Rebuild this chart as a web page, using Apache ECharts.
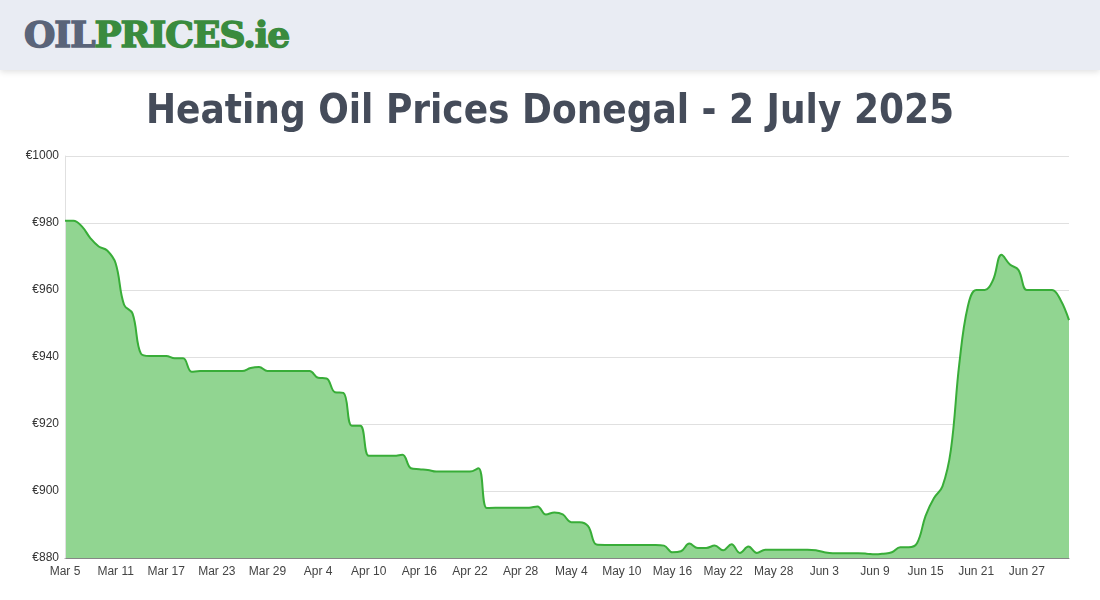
<!DOCTYPE html>
<html>
<head>
<meta charset="utf-8">
<script src="https://cdn.jsdelivr.net/npm/echarts@6/dist/echarts.min.js"></script>
<style>
  body { margin: 0; background: #fff; font-family: Roboto, sans-serif; }
  #header { height: 70px; background: #e9ecf3; box-shadow: 0 2px 6px rgba(0,0,0,0.12); position: relative; }
  #logo { position: absolute; left: 24px; top: 13px; font-family: "DejaVu Serif", serif; font-weight: bold; font-size: 36px; letter-spacing: -1px; -webkit-text-stroke: 1.5px currentColor; }
  #logo .a { color: #5a6479; }
  #logo .b { color: #3a8b3e; }
  #chart { width: 1100px; height: 530px; }
</style>
</head>
<body>
<div id="header"><div id="logo"><span class="a">OIL</span><span class="b">PRICES.ie</span></div></div>
<div id="chart"></div>
<script>
const startDate = new Date(2025, 2, 5);
const monthNames = ['Jan', 'Feb', 'Mar', 'Apr', 'May', 'Jun', 'Jul'];

const prices = [
  980.7, 980.7, 979, 975.5, 973, 971.8, 968, 955.6, 953, 941,
  940.3, 940.3, 940.3, 939.6, 939.6, 935.6, 935.8, 935.8, 935.8, 935.8,
  935.8, 935.8, 936.7, 937, 935.8, 935.8, 935.8, 935.8, 935.8, 935.8,
  933.8, 933.6, 929.5, 929.3, 919.5, 919.5, 910.5, 910.5, 910.5, 910.5,
  910.8, 906.8, 906.5, 906.3, 905.8, 905.8, 905.8, 905.8, 905.8, 906.8,
  894.9, 895, 895, 895, 895, 895, 895.4, 893, 893.6, 893,
  890.7, 890.7, 889.5, 884, 883.9, 883.9, 883.9, 883.9, 883.9, 883.9,
  883.9, 883.7, 881.7, 882, 884.3, 883, 883, 883.7, 882.3, 884.1,
  881.5, 883.4, 881.5, 882.5, 882.5, 882.5, 882.5, 882.5, 882.5, 882.3,
  881.7, 881.4, 881.4, 881.4, 881.4, 881.3, 881.1, 881.3, 881.7, 883.2,
  883.2, 884.5, 892.6, 897.9, 901.4, 912.3, 938, 955, 960, 960,
  963, 970.5, 967.6, 966, 960, 960, 960, 960, 957, 951
];

const dates = prices.map((_, i) => {
  const d = new Date(startDate.getTime());
  d.setDate(d.getDate() + i);
  return monthNames[d.getMonth()] + ' ' + d.getDate();
});

const myChart = echarts.init(document.getElementById('chart'));
myChart.setOption({
  animation: false,
  title: {
    text: 'Heating Oil Prices Donegal - 2 July 2025',
    left: 'center',
    top: 18,
    textStyle: {
      fontFamily: '"DejaVu Sans Condensed", sans-serif',
      fontSize: 40,
      fontWeight: 'bold',
      color: '#454c5a',
    },
  },
  grid: { left: 65, right: 31, top: 86, bottom: 42 },
  xAxis: {
    type: 'category',
    boundaryGap: false,
    data: dates,
    axisLine: { lineStyle: { color: '#999' } },
    axisTick: { show: false },
    axisLabel: { interval: 5, color: '#444', fontSize: 12, fontFamily: 'Arial, sans-serif' },
  },
  yAxis: {
    type: 'value',
    min: 880,
    max: 1000,
    interval: 20,
    z: 3,
    axisLine: { show: true, lineStyle: { color: '#e0e0e0' } },
    axisLabel: { formatter: v => '€' + v, color: '#333', fontSize: 12, fontFamily: 'Arial, sans-serif', margin: 6 },
    splitLine: { lineStyle: { color: 'rgba(0,0,0,0.12)' } },
  },
  series: [
    {
      type: 'line',
      data: prices,
      smooth: 0.4,
      symbol: 'none',
      lineStyle: { color: '#38ad38', width: 2 },
      areaStyle: { color: '#91d591', opacity: 1 },
    },
  ],
});
</script>
</body>
</html>
